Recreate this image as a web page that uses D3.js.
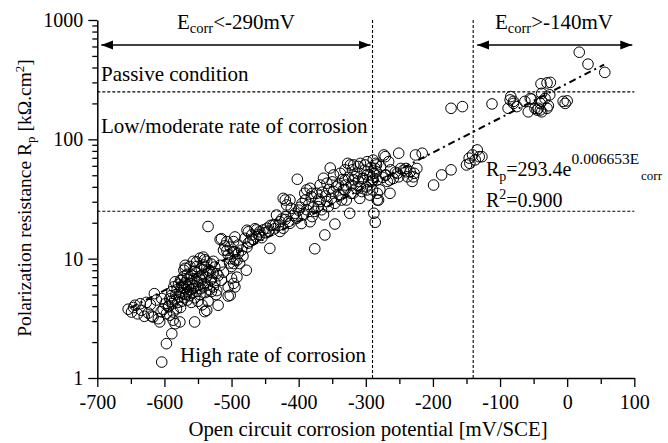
<!DOCTYPE html>
<html>
<head>
<meta charset="utf-8">
<script src="https://cdn.jsdelivr.net/npm/d3@7"></script>
<style>
  body { margin: 0; background: #fff; }
  text { font-family: "Liberation Serif", "Times New Roman", serif; fill: #000; }
</style>
</head>
<body>
<script>
// axis ticks
const xTicks = [-700, -600, -500, -400, -300, -200, -100, 0, 100]
const xMinor = [-650, -550, -450, -350, -250, -150, -50, 50]
const yTicks = [1, 10, 100, 1000]

// limits: potential (mV) and resistance (kOhm.cm2)
const eLimits = [-290, -140]
const rpLimits = [25, 250]

// fit  Rp = a * exp(b * Ecorr)
const fitA = 293.4, fitB = 0.006653
const fitRange = [-650, 55]

const tailLow = [
  [-654,3.77],[-649,3.57],[-646,3.9],[-644,4.07],[-640,3.45],[-636,4.19],[-634,3.69],[-630,3.29],
  [-627,4.3],[-624,3.5],[-621,4.12],[-619,3.3],[-617,3.24],[-615,5.09],[-612,4.5],[-609,3.14],
  [-607,2.95],[-605,3.6],[-602,3.77],[-599,4.19],[-604,4.63],[-597,3.46],[-594,3.94],[-592,3.36],
  [-590,4.4],[-587,3.57],[-587,3.05],[-584,2.85],[-589,2.35],[-597,1.94],[-604,1.36],[-577,2.95],
  [-555,2.95],[-537,3.69],[-520,4.07],[-505,4.86],[-502,4.94]
]
const cluster = [
  [-594,4.0],[-592,4.6],[-590,4.9],[-589,5.3],[-588,4.2],[-586,5.8],[-585,4.5],[-584,6.4],
  [-583,5.0],[-582,3.8],[-581,5.5],[-580,4.3],[-579,6.1],[-578,4.8],[-577,5.2],[-576,6.6],
  [-576,3.9],[-575,5.7],[-574,4.4],[-573,6.0],[-572,5.1],[-571,7.1],[-570,4.7],[-570,5.6],
  [-569,6.3],[-568,5.0],[-567,5.9],[-566,4.5],[-566,6.7],[-565,5.3],[-564,5.8],[-563,4.9],
  [-562,6.2],[-561,5.5],[-560,7.3],[-560,4.3],[-559,5.1],[-558,6.0],[-557,5.6],[-556,6.8],
  [-555,4.7],[-554,5.9],[-553,7.6],[-552,5.3],[-551,6.4],[-550,4.4],[-549,6.0],[-548,7.0],
  [-547,5.0],[-546,5.6],[-545,6.6],[-544,4.1],[-543,7.4],[-542,5.8],[-541,6.2],[-540,3.6],
  [-539,5.2],[-538,7.0],[-536,6.0],[-535,4.4],[-534,8.0],[-533,5.5],[-531,6.6],[-530,5.3],
  [-530,6.85],[-528,7.6],[-527,5.8],[-525,6.3],[-523,5.0],[-522,5.4],[-520,7.2]
]
const upperArm = [
  [-574,6.6],[-571,8.0],[-569,8.8],[-569,8.3],[-566,7.4],[-562,8.6],[-557,9.5],[-555,7.8],
  [-552,9.4],[-552,8.6],[-547,10.1],[-545,8.2],[-542,10.3],[-542,8.85],[-540,9.8],[-540,8.5],
  [-537,9.5],[-535,7.6],[-532,7.75],[-530,9.0],[-527,9.5],[-525,8.5],[-522,7.5],[-517,8.8],
  [-515,6.6],[-512,7.7],[-535,18.6]
]
const bandC = [
  [-517,14.5],[-515,14.7],[-512,11.8],[-510,12.8],[-507,11.7],[-507,13.9],[-505,10.8],[-505,5.8],
  [-503,9.2],[-502,12.5],[-502,10.0],[-500,6.85],[-500,8.6],[-497,13.9],[-497,11.4],[-497,9.1],
  [-497,6.2],[-495,15.2],[-495,9.8],[-495,11.4],[-495,5.8],[-492,9.7],[-492,7.0],[-490,11.1],
  [-490,13.0],[-488,9.1],[-485,11.8],[-483,10.5],[-480,14.8],[-478,8.0],[-477,17.3],[-477,12.5],
  [-475,16.8],[-475,13.5],[-472,14.0],[-470,15.8],[-468,14.4],[-465,17.8],[-463,15.3],[-463,17.4],
  [-460,16.0],[-458,15.7],[-458,16.8],[-455,15.0],[-453,17.4],[-450,16.5],[-447,18.0],[-445,17.0],
  [-443,12.2],[-442,19.0]
]
const bandD = [
  [-438,19.2],[-436,17.8],[-435,19.2],[-433,23.2],[-430,19.0],[-428,20.4],[-428,16.9],[-425,21.5],
  [-423,18.0],[-420,21.3],[-420,31.0],[-419,22.5],[-418,28.2],[-423,32.0],[-415,20.5],[-413,19.8],
  [-413,31.0],[-411,26.4],[-408,23.0],[-405,24.0],[-403,21.8],[-402,46.3],[-400,25.5],[-398,27.0],
  [-396,19.7],[-395,29.0],[-393,23.3],[-391,35.3],[-390,31.0],[-388,25.7],[-388,37.7],[-385,28.5],
  [-383,20.4],[-383,38.9],[-381,33.0],[-380,22.5],[-380,35.3],[-378,27.0],[-376,12.1],[-376,24.9]
]
const bandE = [
  [-373,35.3],[-371,27.3],[-370,31.5],[-368,30.1],[-368,41.4],[-366,25.7],[-365,36.0],[-363,23.3],
  [-363,47.2],[-361,15.8],[-360,33.5],[-358,30.1],[-358,42.9],[-356,27.3],[-355,38.0],[-353,57.5],
  [-351,32.0],[-350,44.0],[-348,36.5],[-348,50.3],[-346,29.1],[-346,19.5],[-344,40.0],[-341,41.4],
  [-340,34.5],[-338,34.1],[-338,51.9],[-336,31.0],[-335,46.0],[-333,38.0],[-331,45.7],[-331,37.7],
  [-331,55.5],[-330,41.4],[-329,31.0],[-327,62.9],[-326,48.0],[-324,24.0],[-323,61.0],[-322,35.3],
  [-321,41.4],[-320,55.5],[-319,35.3],[-318,45.7],[-318,61.0],[-316,48.6],[-314,38.9],[-313,52.0],
  [-311,44.4],[-311,59.2],[-309,32.0],[-308,40.0],[-308,62.9],[-306,36.5],[-305,47.0],[-304,47.2],
  [-302,55.0],[-301,61.0],[-299,40.0],[-298,65.0],[-298,50.3],[-298,37.7],[-296,44.0],[-294,50.3],
  [-294,34.1],[-292,58.0],[-291,44.4],[-290,37.7]
]
const bandF = [
  [-289,45.7],[-289,67.0],[-288,51.9],[-288,24.0],[-286,57.0],[-286,20.2],[-285,62.9],[-284,61.0],
  [-284,53.5],[-283,45.7],[-283,35.3],[-283,31.0],[-281,31.0],[-279,37.7],[-278,59.2],[-275,48.0],
  [-273,74.0],[-271,71.6],[-271,50.0],[-270,50.3],[-268,44.4],[-266,65.0],[-264,45.7],[-264,35.3],
  [-263,55.5],[-259,47.0],[-256,53.0],[-253,51.9],[-251,76.5],[-251,48.5],[-248,57.0],[-244,55.0],
  [-240,53.5],[-240,57.0],[-238,48.6],[-234,53.5],[-231,44.4],[-229,48.5],[-228,51.9],[-226,74.0],
  [-224,57.0],[-216,76.5]
]
const sparse = [
  [-199,41.4],[-187,50.3],[-173,55.5],[-173,182],[-156,188],[-150,61],[-146,69.6],[-145,62.9],
  [-141,74],[-137,67.3],[-134,81.5],[-131,71.5],[-127,71.5]
]
const passive = [
  [-112,198],[-88,182],[-85,214],[-84,228],[-80,200],[-80,208],[-75,188],[-63,208],
  [-58,170],[-55,220],[-53,217],[-48,182],[-45,176],[-43,182],[-40,200],[-40,176],
  [-38,170],[-38,208],[-38,243],[-39,292],[-33,220],[-30,297],[-30,182],[-28,191],
  [-26,236],[-25,300],[-6,208],[-3,200],[0,210],[18,537],[31,427],[56,364]
]

const points = [].concat(tailLow, cluster, upperArm, bandC, bandD, bandE, bandF, sparse, passive)

const W = 668, H = 443
const svg = d3.select("body").append("svg")
    .attr("width", W)
    .attr("height", H)

const x = d3.scaleLinear().domain([-700, 100]).range([97.3, 634.3])
const y = d3.scaleLog().domain([1, 1000]).range([378, 20])

// arrow heads
const defs = svg.append("defs")
defs.append("marker")
    .attr("id", "head")
    .attr("viewBox", "0 -5 12 10")
    .attr("refX", 12)
    .attr("refY", 0)
    .attr("markerUnits", "userSpaceOnUse")
    .attr("markerWidth", 12)
    .attr("markerHeight", 10)
    .attr("orient", "auto-start-reverse")
  .append("path")
    .attr("d", "M0,-4.5L12,0L0,4.5Z")
    .attr("fill", "#000")

// dashed limit lines
svg.selectAll(".hlim")
  .data(rpLimits)
  .enter().append("line")
    .attr("x1", x(-700)).attr("x2", x(100))
    .attr("y1", d => y(d)).attr("y2", d => y(d))
    .attr("stroke", "#000").attr("stroke-width", 1.1)
    .attr("stroke-dasharray", "3,2")

svg.selectAll(".vlim")
  .data(eLimits)
  .enter().append("line")
    .attr("x1", d => x(d)).attr("x2", d => x(d))
    .attr("y1", y(1)).attr("y2", y(1000))
    .attr("stroke", "#000").attr("stroke-width", 1.1)
    .attr("stroke-dasharray", "3,2")

// range arrows
const arrowY = 45
const arrows = [[-700, eLimits[0]], [eLimits[1], 100]]
svg.selectAll(".arrow")
  .data(arrows)
  .enter().append("line")
    .attr("x1", d => x(d[0]) + 4)
    .attr("x2", d => x(d[1]) - 2)
    .attr("y1", arrowY).attr("y2", arrowY)
    .attr("stroke", "#000").attr("stroke-width", 1.5)
    .attr("marker-start", "url(#head)")
    .attr("marker-end", "url(#head)")

// fit line
const fitE = d3.range(fitRange[0], fitRange[1] + 1, 5)
const line = d3.line()
    .x(d => x(d))
    .y(d => y(fitA * Math.exp(fitB * d)))
svg.append("path")
    .attr("d", line(fitE))
    .attr("fill", "none")
    .attr("stroke", "#000")
    .attr("stroke-width", 2)
    .attr("stroke-dasharray", "7,4,2,4")

// points
svg.append("g")
  .selectAll("circle")
  .data(points)
  .enter().append("circle")
    .attr("cx", d => x(d[0]))
    .attr("cy", d => y(d[1]))
    .attr("r", 5.3)
    .attr("fill", "none")
    .attr("stroke", "#000")
    .attr("stroke-width", 1)

// axes
const xAxis = svg.append("g")
    .attr("transform", "translate(0," + y(1) + ")")
    .call(d3.axisBottom(x).tickValues(xTicks).tickSize(9).tickSizeOuter(0)
        .tickPadding(6).tickFormat(d => String(d)))
svg.append("g")
    .attr("transform", "translate(0," + y(1) + ")")
    .call(d3.axisBottom(x).tickValues(xMinor).tickSize(6).tickSizeOuter(0).tickFormat(""))
    .select(".domain").remove()

const yMinor = []
yTicks.slice(0, -1).forEach(t => { for (let k = 2; k <= 9; k++) yMinor.push(t * k) })
const yAxis = svg.append("g")
    .attr("transform", "translate(" + x(-700) + ",0)")
    .call(d3.axisLeft(y).tickValues(yTicks).tickSize(9).tickSizeOuter(0)
        .tickPadding(5).tickFormat(d => String(d)))
svg.append("g")
    .attr("transform", "translate(" + x(-700) + ",0)")
    .call(d3.axisLeft(y).tickValues(yMinor).tickSize(5).tickSizeOuter(0).tickFormat(""))
    .select(".domain").remove()

svg.selectAll(".domain").attr("stroke-width", 1.5)
svg.selectAll(".tick line").attr("stroke-width", 1.3)
svg.selectAll(".tick text")
    .style("font-family", '"Liberation Serif", serif')
    .style("font-size", "20px")
xAxis.selectAll(".tick text").attr("dy", "0.8em")

// axis titles
svg.append("text")
    .attr("x", 368).attr("y", 436)
    .attr("text-anchor", "middle")
    .style("font-size", "20.8px")
    .text("Open circuit corrosion potential [mV/SCE]")

const yt = svg.append("text")
    .attr("transform", "translate(31,198) rotate(-90)")
    .attr("text-anchor", "middle")
    .style("font-size", "19.5px")
yt.append("tspan").text("Polarization resistance R")
yt.append("tspan").attr("dy", 4).style("font-size", "13px").text("p")
yt.append("tspan").attr("dy", -4).text(" [k\u03A9.cm")
yt.append("tspan").attr("dy", -7).style("font-size", "13px").text("2")
yt.append("tspan").attr("dy", 7).text("]")

// region labels
function ecorrLabel(cx, rest) {
  const t = svg.append("text")
      .attr("x", cx).attr("y", 29)
      .attr("text-anchor", "middle")
      .style("font-size", "21px")
  t.append("tspan").text("E")
  t.append("tspan").attr("dy", 4).style("font-size", "14.5px").text("corr")
  t.append("tspan").attr("dy", -4).text(rest)
}
ecorrLabel(236, "<-290mV")
ecorrLabel(554, ">-140mV")

svg.append("text").attr("x", 101).attr("y", 81)
    .style("font-size", "21px").text("Passive condition")
svg.append("text").attr("x", 101).attr("y", 133)
    .style("font-size", "21px").text("Low/moderate rate of corrosion")
svg.append("text").attr("x", 180).attr("y", 362)
    .style("font-size", "21px").text("High rate of corrosion")

// fit equation
const eq = svg.append("text")
    .attr("x", 486).attr("y", 176)
    .style("font-size", "20px")
eq.append("tspan").text("R")
eq.append("tspan").attr("dy", 5).style("font-size", "14px").text("p")
eq.append("tspan").attr("dy", -5).text("=293.4e")
eq.append("tspan").attr("dy", -12).style("font-size", "15.5px").text("0.006653E")
eq.append("tspan").attr("dx", 2).attr("dy", 16).style("font-size", "13px").text("corr")

const r2 = svg.append("text")
    .attr("x", 486).attr("y", 207)
    .style("font-size", "20px")
r2.append("tspan").text("R")
r2.append("tspan").attr("dy", -8).style("font-size", "14px").text("2")
r2.append("tspan").attr("dy", 8).text("=0.900")
</script>
</body>
</html>
